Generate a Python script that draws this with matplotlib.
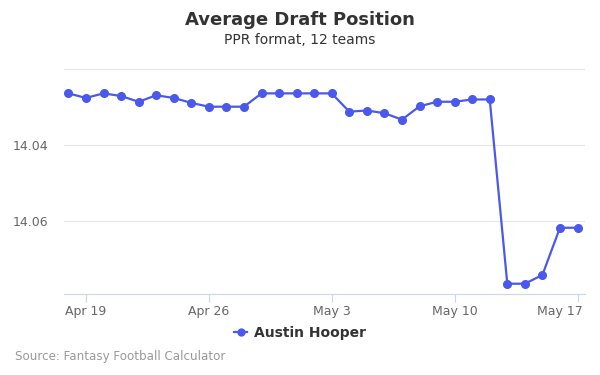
import numpy as np
import matplotlib
matplotlib.use("Agg")
from matplotlib import pyplot as plt
from matplotlib.transforms import ScaledTranslation

# daily ADP values, Apr 18 - May 17
dates = np.arange(np.datetime64("2019-04-18"), np.datetime64("2019-05-18"))
adp = [14.0264, 14.0276, 14.0264, 14.0271, 14.0286, 14.0269, 14.0276, 14.0289,
       14.0299, 14.0299, 14.0299, 14.0264, 14.0264, 14.0264, 14.0264, 14.0264,
       14.0312, 14.0309, 14.0316, 14.0333, 14.0298, 14.0286, 14.0286, 14.0280,
       14.0280, 14.0764, 14.0764, 14.0741, 14.0617, 14.0617]
y_ticks = [14.02, 14.04, 14.06]
y_labels = ["", "14.04", "14.06"]
x_ticks = ["2019-04-19", "2019-04-26", "2019-05-03", "2019-05-10", "2019-05-17"]
x_labels = ["Apr 19", "Apr 26", "May 3", "May 10", "May 17"]

color = "#4a58ec"

fig = plt.figure(figsize=(6, 3.75), dpi=100)
ax = fig.add_axes([0.1067, 0.216, 0.868, 0.603])

ax.plot(dates.astype("datetime64[D]").astype(object), adp, color=color, lw=1.6,
        marker="o", ms=5.5, label="Austin Hooper")

ax.set_ylim(14.0791, 14.0197)
ax.set_yticks(y_ticks)
ax.set_yticklabels(y_labels)
ax.set_xlim(np.datetime64("2019-04-17T18:00"), np.datetime64("2019-05-17T10:00"))
ax.set_xticks([np.datetime64(d) for d in x_ticks])
ax.set_xticklabels(x_labels)

ax.grid(axis="y", color="#e6e6e6", lw=0.8)
ax.set_axisbelow(True)
for s in ["top", "right", "left"]:
    ax.spines[s].set_visible(False)
ax.spines["bottom"].set_color("#ccd6eb")
ax.tick_params(axis="y", length=0, labelsize=9, labelcolor="#666666", pad=11)
ax.tick_params(axis="x", length=6, color="#ccd6eb", labelsize=9,
               labelcolor="#666666", pad=2)

# keep the last date label inside the chart, like the original
last = ax.get_xticklabels()[-1]
last.set_ha("right")
last.set_transform(last.get_transform() + ScaledTranslation(5 / 100, 0, fig.dpi_scale_trans))

fig.text(0.5, 0.947, "Average Draft Position", ha="center", va="center",
         fontsize=13, fontweight="bold", color="#333333")
fig.text(0.5, 0.893, "PPR format, 12 teams", ha="center", va="center",
         fontsize=10, color="#333333")

leg = fig.legend(loc="center", bbox_to_anchor=(0.5, 0.113), frameon=False,
                 handlelength=1.0, handletextpad=0.5, markerscale=0.9,
                 prop={"weight": "bold", "size": 10})
for t in leg.get_texts():
    t.set_color("#333333")

fig.text(0.025, 0.05, "Source: Fantasy Football Calculator", ha="left",
         va="center", fontsize=8.6, color="#999999")

fig.savefig("out.png", dpi=100)
